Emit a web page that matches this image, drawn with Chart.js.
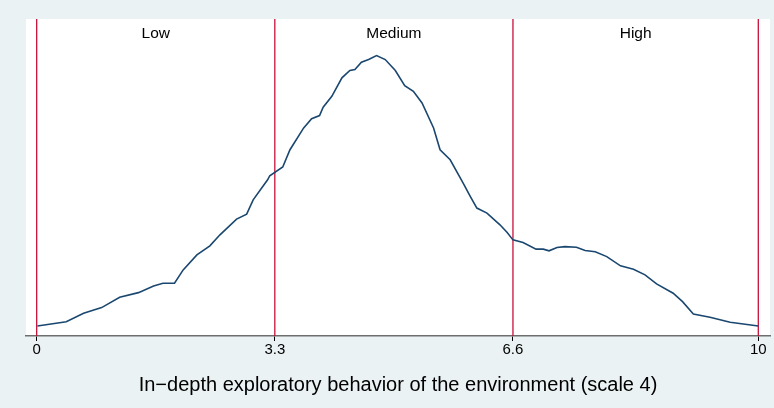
<!DOCTYPE html>
<html>
<head>
<meta charset="utf-8">
<script src="https://cdn.jsdelivr.net/npm/chart.js@4"></script>
<style>
  html, body { margin: 0; padding: 0; background: #eaf2f3; }
  #wrap { width: 774px; height: 408px; }
</style>
</head>
<body>
<div id="wrap"><canvas id="grafico" width="774" height="408"></canvas></div>
<script>
// kernel density curve
const xVals = [0.01, 0.41, 0.65, 0.90, 1.15, 1.41, 1.62, 1.75, 1.91, 2.03,
  2.22, 2.40, 2.54, 2.77, 2.91, 3.00, 3.20, 3.23, 3.41, 3.51,
  3.70, 3.81, 3.92, 3.97, 4.09, 4.23, 4.34, 4.41, 4.50, 4.60,
  4.71, 4.83, 4.97, 5.10, 5.22, 5.34, 5.50, 5.59, 5.73, 5.91,
  6.01, 6.10, 6.24, 6.42, 6.52, 6.60, 6.74, 6.92, 7.02, 7.10,
  7.21, 7.32, 7.48, 7.60, 7.74, 7.90, 8.09, 8.27, 8.43, 8.59,
  8.82, 8.95, 9.10, 9.33, 9.61, 10.0];
const densVals = [0.0079, 0.0113, 0.0179, 0.0224, 0.0306, 0.0342, 0.0395, 0.0416, 0.0416, 0.0521,
  0.0640, 0.0711, 0.0798, 0.0922, 0.0961, 0.1074, 0.1232, 0.1264, 0.1333, 0.1469,
  0.1641, 0.1714, 0.1738, 0.1804, 0.1890, 0.2036, 0.2094, 0.2101, 0.2159, 0.2180,
  0.2212, 0.2180, 0.2094, 0.1975, 0.1930, 0.1838, 0.1641, 0.1469, 0.1390, 0.1206,
  0.1100, 0.1009, 0.0969, 0.0877, 0.0816, 0.0758, 0.0737, 0.0685, 0.0685, 0.0672,
  0.0698, 0.0705, 0.0700, 0.0674, 0.0664, 0.0626, 0.0553, 0.0527, 0.0482, 0.0411,
  0.0337, 0.0271, 0.0174, 0.0148, 0.0108, 0.0079];

const cortes = [0, 3.3, 6.6, 10];
const tickVals = [0, 3.3, 6.6, 10];
const grupos = ['Low', 'Medium', 'High'];
const tituloX = 'In\u2212depth exploratory behavior of the environment (scale 4)';

const yMax = 0.25;
const fonte = '"Liberation Sans", Arial, sans-serif';

let curva = xVals.map((x, i) => ({x: x, y: densVals[i]}));

let datasets = [{
  data: curva,
  borderColor: '#1a476f',
  borderWidth: 1.6,
  pointRadius: 0,
  showLine: true,
  tension: 0
}];

cortes.forEach(c => {
  datasets.push({
    data: [{x: c, y: 0}, {x: c, y: yMax}],
    borderColor: '#c8103a',
    borderWidth: 1.3,
    pointRadius: 0,
    showLine: true,
    tension: 0
  });
});

// white plot region + group labels
const fundo = {
  id: 'fundo',
  beforeDraw(chart) {
    let a = chart.chartArea;
    let ctx = chart.ctx;
    ctx.save();
    ctx.fillStyle = '#eaf2f3';
    ctx.fillRect(0, 0, chart.width, chart.height);
    ctx.fillStyle = '#ffffff';
    ctx.fillRect(a.left, a.top, a.right - a.left, a.bottom - a.top);
    ctx.restore();
  },
  afterDatasetsDraw(chart) {
    let ctx = chart.ctx;
    let sx = chart.scales.x;
    ctx.save();
    ctx.fillStyle = '#000';
    ctx.font = '15.5px ' + fonte;
    ctx.textAlign = 'center';
    ctx.textBaseline = 'middle';
    grupos.forEach((g, i) => {
      let mid = (cortes[i] + cortes[i + 1]) / 2;
      ctx.fillText(g, sx.getPixelForValue(mid), chart.chartArea.top + 15);
    });
    ctx.restore();
  }
};

let config = {
  type: 'scatter',
  data: {datasets: datasets},
  plugins: [fundo],
  options: {
    responsive: false,
    animation: false,
    layout: {padding: {left: 26, right: 4, top: 19, bottom: 0}},
    plugins: {
      legend: {display: false},
      tooltip: {enabled: false}
    },
    scales: {
      x: {
        type: 'linear',
        min: -0.148,
        max: 10.162,
        afterBuildTicks: (s) => { s.ticks = tickVals.map(v => ({value: v})); },
        afterFit: (s) => { s.height = 72; },
        ticks: {
          color: '#000',
          font: {family: fonte, size: 15},
          padding: 0,
          maxRotation: 0,
          autoSkip: false,
          callback: (v) => String(v)
        },
        grid: {
          drawOnChartArea: false,
          drawTicks: true,
          tickLength: 5,
          color: '#000'
        },
        border: {color: '#6e6e6e', width: 1.5},
        title: {
          display: true,
          text: tituloX,
          color: '#000',
          font: {family: fonte, size: 20},
          padding: {top: 4, bottom: 11}
        }
      },
      y: {
        display: false,
        min: 0,
        max: yMax
      }
    }
  }
};

new Chart(document.getElementById('grafico'), config);
</script>
</body>
</html>
